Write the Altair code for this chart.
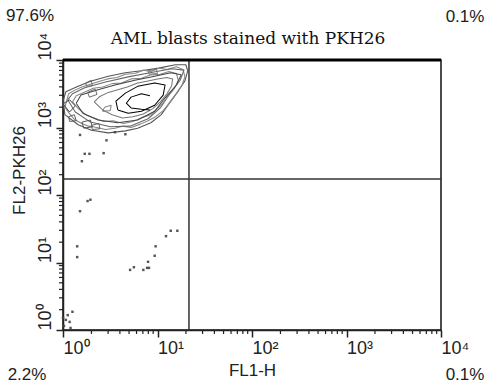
import altair as alt
import numpy as np
import pandas as pd

# Flow cytometry plot: FL1-H vs FL2-PKH26 on 4-decade log axes.
# All positions are stored in decades (log10 of intensity).

# Contour rings of the main blast population (x decades, y decades)
outer_x = [0.00, 0.02, 0.16, 0.30, 0.48, 0.66, 0.79, 0.93, 1.04, 1.14, 1.22, 1.29, 1.32, 1.30,
           1.19, 1.01, 0.83, 0.66, 0.48, 0.30, 0.16, 0.03, 0.00]
outer_y = [3.39, 3.19, 3.04, 2.96, 2.92, 2.95, 2.99, 3.07, 3.19, 3.39, 3.54, 3.69, 3.84, 3.93,
           3.93, 3.88, 3.84, 3.81, 3.76, 3.69, 3.61, 3.53, 3.39]

ringa_x = [0.02, 0.06, 0.12, 0.20, 0.27, 0.36, 0.45, 0.55, 0.63, 0.72, 0.82, 0.90, 0.98, 1.06,
           1.12, 1.17, 1.22, 1.26, 1.29, 1.27, 1.20, 1.10, 1.02, 0.93, 0.85, 0.76, 0.66, 0.57,
           0.47, 0.38, 0.29, 0.20, 0.12, 0.06, 0.02]
ringa_y = [3.30, 3.22, 3.12, 3.06, 3.02, 3.00, 2.97, 2.99, 3.02, 3.00, 3.05, 3.10, 3.16, 3.25,
           3.35, 3.44, 3.55, 3.63, 3.75, 3.86, 3.90, 3.86, 3.88, 3.83, 3.85, 3.80, 3.79, 3.74,
           3.72, 3.68, 3.64, 3.60, 3.55, 3.50, 3.30]

mid1_x = [0.05, 0.13, 0.29, 0.50, 0.71, 0.90, 1.03, 1.13, 1.24, 1.28, 1.15, 0.92, 0.69, 0.44,
          0.23, 0.10, 0.05]
mid1_y = [3.41, 3.23, 3.08, 3.01, 3.02, 3.13, 3.29, 3.50, 3.70, 3.85, 3.87, 3.81, 3.75, 3.67,
          3.59, 3.50, 3.41]

ringb_x = [0.10, 0.17, 0.25, 0.33, 0.43, 0.53, 0.64, 0.74, 0.84, 0.93, 1.00, 1.06, 1.12, 1.18,
           1.22, 1.20, 1.12, 1.03, 0.93, 0.83, 0.72, 0.62, 0.52, 0.42, 0.32, 0.22, 0.14, 0.10]
ringb_y = [3.38, 3.27, 3.18, 3.14, 3.09, 3.10, 3.06, 3.09, 3.15, 3.19, 3.28, 3.37, 3.48, 3.58,
           3.70, 3.80, 3.83, 3.79, 3.78, 3.73, 3.72, 3.66, 3.65, 3.60, 3.58, 3.52, 3.47, 3.38]

mid2_x = [0.14, 0.21, 0.37, 0.58, 0.79, 0.97, 1.08, 1.20, 1.25, 1.14, 0.97, 0.76, 0.55, 0.37,
          0.19, 0.14]
mid2_y = [3.36, 3.21, 3.11, 3.07, 3.11, 3.24, 3.44, 3.63, 3.78, 3.81, 3.76, 3.70, 3.63, 3.56,
          3.48, 3.36]

ringc_x = [0.33, 0.42, 0.52, 0.63, 0.74, 0.85, 0.95, 1.03, 1.10, 1.15, 1.16, 1.10, 1.00, 0.90,
           0.79, 0.68, 0.58, 0.48, 0.39, 0.33]
ringc_y = [3.38, 3.26, 3.19, 3.14, 3.16, 3.20, 3.28, 3.38, 3.50, 3.62, 3.72, 3.74, 3.72, 3.69,
           3.66, 3.60, 3.56, 3.52, 3.46, 3.38]

core_x = [0.58, 0.69, 0.83, 0.97, 1.06, 1.08, 0.97, 0.79, 0.66, 0.56, 0.58]
core_y = [3.26, 3.21, 3.24, 3.33, 3.48, 3.63, 3.66, 3.61, 3.51, 3.39, 3.26]

peak_x = [0.92, 0.83, 0.72, 0.67, 0.72, 0.83, 0.92]
peak_y = [3.47, 3.50, 3.45, 3.36, 3.29, 3.27, 3.26]

# Small density islands inside the population
isl1_x = [0.00, 0.07, 0.13, 0.07, 0.00]
isl1_y = [3.35, 3.41, 3.32, 3.23, 3.35]
isl2_x = [0.20, 0.29, 0.31, 0.22, 0.20]
isl2_y = [3.08, 3.11, 3.01, 2.99, 3.08]
isl3_x = [0.26, 0.34, 0.36, 0.28, 0.26]
isl3_y = [3.52, 3.57, 3.49, 3.45, 3.52]
isl4_x = [0.44, 0.51, 0.50, 0.42, 0.44]
isl4_y = [3.30, 3.33, 3.25, 3.24, 3.30]
isl5_x = [0.90, 0.99, 1.00, 0.91, 0.90]
isl5_y = [3.84, 3.86, 3.80, 3.79, 3.84]
isl6_x = [0.06, 0.12, 0.14, 0.07, 0.06]
isl6_y = [3.16, 3.19, 3.10, 3.09, 3.16]
isl7_x = [0.24, 0.30, 0.31, 0.25, 0.24]
isl7_y = [3.66, 3.70, 3.62, 3.61, 3.66]
isl8_x = [0.30, 0.38, 0.39, 0.31, 0.30]
isl8_y = [3.03, 3.06, 2.98, 2.97, 3.03]

# Isolated events outside the main population
event_x = [0.18, 0.15, 0.15, 0.71, 0.75, 0.85, 0.89, 0.91, 0.90, 0.97, 0.98, 1.09, 1.14, 1.21,
           0.26, 0.29, 0.23, 0.28, 0.20, 0.43, 0.18, 0.46, 0.66, 0.55,
           0.01, 0.03, 0.05, 0.07, 0.10, 0.00, 0.08]
event_y = [1.76, 1.24, 1.08, 0.89, 0.93, 0.89, 0.92, 0.92, 1.01, 1.10, 1.24, 1.39, 1.47, 1.47,
           1.91, 1.93, 2.61, 2.61, 2.50, 2.62, 2.89, 2.81, 2.90, 2.93,
           0.06, 0.15, 0.22, 0.12, 0.27, 0.18, 0.03]

# Quadrant markers (decades)
quad_x = 1.333
quad_y = 2.237

major_ticks = [0, 1, 2, 3, 4]
minor_ticks = [float(k + np.log10(m)) for k in range(4) for m in range(2, 10)]

quadrant_pct = ["97.6%", "0.1%", "2.2%", "0.1%"]

W, H = 378, 270

rings = [("outer", outer_x, outer_y), ("ringa", ringa_x, ringa_y), ("mid1", mid1_x, mid1_y),
         ("ringb", ringb_x, ringb_y), ("mid2", mid2_x, mid2_y), ("ringc", ringc_x, ringc_y),
         ("core", core_x, core_y), ("peak", peak_x, peak_y),
         ("isl1", isl1_x, isl1_y), ("isl2", isl2_x, isl2_y), ("isl3", isl3_x, isl3_y),
         ("isl4", isl4_x, isl4_y), ("isl5", isl5_x, isl5_y), ("isl6", isl6_x, isl6_y),
         ("isl7", isl7_x, isl7_y), ("isl8", isl8_x, isl8_y)]
rows = []
for name, xs, ys in rings:
    for i, (a, b) in enumerate(zip(xs, ys)):
        rows.append({"ring": name, "i": i, "fl1": a, "fl2": b})
contours = pd.DataFrame(rows)
events = pd.DataFrame({"fl1": event_x, "fl2": event_y})

xscale = alt.Scale(domain=[0, 4], nice=False, zero=False)
yscale = alt.Scale(domain=[0, 4], nice=False, zero=False)

sup = "'10' + ['\u2070','\u00b9','\u00b2','\u00b3','\u2074'][datum.value]"

lab_font = "Liberation Sans"

x_major = alt.Axis(values=major_ticks, labelExpr=sup, title="FL1-H", orient="bottom",
                   labelFont=lab_font, labelFontSize=18, labelColor="#222",
                   labelAlign="left", labelBaseline="top", labelPadding=2,
                   labelFlush=False, labelOverlap=False, labelBound=False,
                   tickSize=7, tickWidth=1.5, tickColor="#222", domainColor="#222",
                   domainWidth=1.5, grid=False, titleFont=lab_font, titleFontSize=17,
                   titleFontWeight="normal", titleColor="#222", titleX=189, titleY=40,
                   titleAlign="center", titleBaseline="middle")
y_major = alt.Axis(values=major_ticks, labelExpr=sup, title="FL2-PKH26", orient="left",
                   labelFont=lab_font, labelFontSize=18, labelColor="#222", labelAngle=270,
                   labelAlign="left", labelBaseline="bottom", labelPadding=2,
                   labelFlush=False, labelOverlap=False, labelBound=False,
                   tickSize=7, tickWidth=1.5, tickColor="#222", domainColor="#222",
                   domainWidth=1.5, grid=False, titleFont=lab_font, titleFontSize=17,
                   titleFontWeight="normal", titleColor="#222", titleAngle=270,
                   titleX=-44, titleY=110, titleAlign="center", titleBaseline="middle")

ring_names = [r[0] for r in rings]
ring_colors = ["#555", "#888", "#666", "#888", "#444", "#777", "#000", "#000",
               "#444", "#555", "#666", "#777", "#777", "#555", "#666", "#555"]
ring_widths = [1.1, 0.9, 1.0, 0.9, 1.2, 0.9, 2.2, 1.8, 1.4, 1.3, 1.0, 1.0, 1.0, 1.1, 1.0, 1.1]

contour_layer = alt.Chart(contours).mark_line(strokeJoin="round").encode(
    x=alt.X("fl1:Q", scale=xscale, axis=x_major),
    y=alt.Y("fl2:Q", scale=yscale, axis=y_major),
    detail="ring:N",
    order="i:Q",
    color=alt.Color("ring:N", legend=None,
                    scale=alt.Scale(domain=ring_names, range=ring_colors)),
    strokeWidth=alt.StrokeWidth("ring:N", legend=None,
                                scale=alt.Scale(domain=ring_names, range=ring_widths)),
)

event_layer = alt.Chart(events).mark_square(size=6, color="#444", opacity=0.9).encode(
    x=alt.X("fl1:Q", scale=xscale),
    y=alt.Y("fl2:Q", scale=yscale),
)

# Minor log ticks along both axes (short rules outside the frame)
minor_df = pd.DataFrame({"t": minor_ticks})
x_minor = alt.Chart(minor_df).mark_rule(color="#222", strokeWidth=1.2).encode(
    x=alt.X("t:Q", scale=xscale), y=alt.value(H), y2=alt.value(H + 4))
y_minor = alt.Chart(minor_df).mark_rule(color="#222", strokeWidth=1.2).encode(
    y=alt.Y("t:Q", scale=yscale), x=alt.value(-4), x2=alt.value(0))

quad_v = alt.Chart(pd.DataFrame({"v": [quad_x]})).mark_rule(color="#333", strokeWidth=1.5).encode(
    x=alt.X("v:Q", scale=xscale))
quad_h = alt.Chart(pd.DataFrame({"v": [quad_y]})).mark_rule(color="#333", strokeWidth=1.5).encode(
    y=alt.Y("v:Q", scale=yscale))

top_border = alt.Chart().mark_rule(color="black", strokeWidth=3).encode(
    x=alt.value(0), x2=alt.value(W), y=alt.value(0))

title = alt.Chart().mark_text(font="DejaVu Serif", fontSize=17, color="#111",
                              text="AML blasts stained with PKH26").encode(
    x=alt.value(185), y=alt.value(-21))

pct_pos = [(-33, -44), (402, -43), (-36, 315), (402, 315)]
pct_layers = [
    alt.Chart().mark_text(font=lab_font, fontSize=17, color="#222", text=t,
                          align="center", baseline="middle").encode(
        x=alt.value(px), y=alt.value(py))
    for t, (px, py) in zip(quadrant_pct, pct_pos)
]

chart = alt.layer(contour_layer, event_layer, x_minor, y_minor, quad_v, quad_h, top_border,
                  title, *pct_layers).properties(
    width=W, height=H,
    autosize=alt.AutoSizeParams(type="none"),
    padding={"left": 63, "top": 60, "right": 51, "bottom": 56},
    background="white",
).configure_view(stroke="#111", strokeWidth=1.5)

chart.save("out.html", embed_options={"renderer": "svg", "actions": False})
